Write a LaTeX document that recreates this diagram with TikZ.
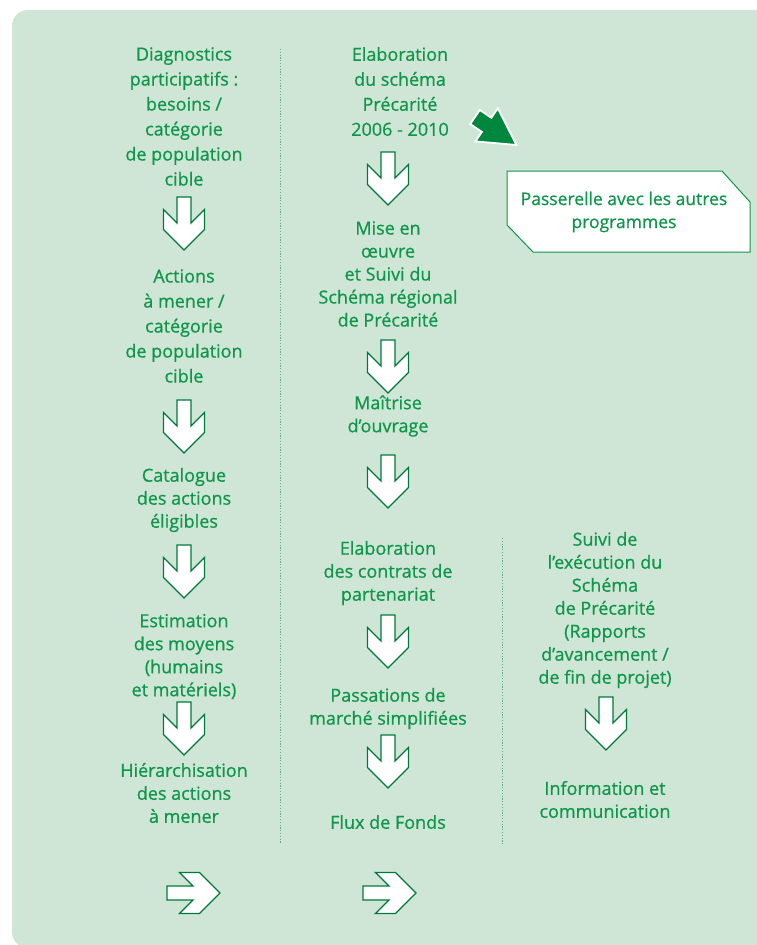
\documentclass[tikz,border=0pt]{standalone}
\usepackage{fontspec}
\setmainfont{Open Sans}[FakeBold=0.7]
\definecolor{bg}{HTML}{CFE5D5}
\definecolor{txt}{HTML}{0E964A}
\definecolor{dk}{HTML}{007A3A}
\definecolor{gr}{HTML}{00873E}
\definecolor{dotc}{HTML}{5FB184}
\tikzset{
  lbl/.style={text=txt, align=center, font=\fontsize{18}{23}\selectfont, inner sep=0pt},
  lblw/.style={lbl, font=\fontsize{18}{25}\selectfont},
  darr/.pic={\draw[dk, fill=white, line width=1.3, line join=miter]
     (-7,0) -- (7,0) -- (7,26) -- (20.5,12.5) -- (20.5,32.5) -- (0,53)
     -- (-20.5,32.5) -- (-20.5,12.5) -- (-7,26) -- cycle;},
  sep/.style={dotc, line width=1, dash pattern=on 1.2pt off 1.6pt}
}
\begin{document}
\begin{tikzpicture}[x=1pt,y=-1pt]
\useasboundingbox (0,0) rectangle (756,945);
\fill[bg, rounded corners=16] (12,10) rectangle (800,948);
% separators
\coordinate (s1a) at (280,49); \coordinate (s1b) at (280,844);
\coordinate (s2a) at (502,538); \coordinate (s2b) at (502,844);
\draw[sep] (s1a) -- (s1b);
\draw[sep] (s2a) -- (s2b);
% column 1
\node[lblw] (a1) at (184,116.5) {Diagnostics\\participatifs :\\besoins /\\catégorie\\de population\\cible};
\node[lblw] (a2) at (184,326) {Actions\\à mener /\\catégorie\\de population\\cible};
\node[lbl] (a3) at (184,500) {Catalogue\\des actions\\éligibles};
\node[lbl] (a4) at (184,656.5) {Estimation\\des moyens\\(humains\\et matériels)};
\node[lbl] (a5) at (184,793) {Hiérarchisation\\des actions\\à mener};
\pic at (184,197) {darr};
\pic at (184,400) {darr};
\pic at (184,545) {darr};
\pic at (184,702) {darr};
\pic[rotate=90] at (167,893) {darr};
% column 2
\node[lblw] (b1) at (400,91.5) {Elaboration\\du schéma\\Précarité\\2006 - 2010};
\node[lbl] (b2) at (388,274) {Mise en\\œuvre\\et Suivi du\\Schéma régional\\de Précarité};
\node[lbl] (b3) at (388,416) {Maîtrise\\d’ouvrage};
\node[lbl] (b4) at (388,573) {Elaboration\\des contrats de\\partenariat};
\node[lbl] (b5) at (388,708.5) {Passations de\\marché simplifiées};
\node[lbl] (b6) at (388,822) {Flux de Fonds};
\pic at (388,152) {darr};
\pic at (388,340) {darr};
\pic at (388,455) {darr};
\pic at (388,615) {darr};
\pic at (388,735) {darr};
\pic[rotate=90] at (363,893) {darr};
% column 3
\node[lbl] (c1) at (605,610) {Suivi de\\l’exécution du\\Schéma\\de Précarité\\(Rapports\\d’avancement /\\de fin de projet)};
\node[lbl] (c2) at (605,799.5) {Information et\\communication};
\pic at (606,697) {darr};
% green arrow
\begin{scope}[shift={(475,117)}, rotate=-34]
\draw[white, fill=gr, line width=1.8, line join=miter]
  (0,8.5) -- (14,8.5) -- (14,20) -- (50,0) -- (14,-20) -- (14,-8.5) -- (0,-8.5) -- cycle;
\end{scope}
% passerelle box
\draw[txt, fill=white, line width=1] (507,171) -- (722,171) -- (750,202) -- (750,252) -- (533,252) -- (507,225) -- cycle;
\node[lbl, font=\fontsize{17.5}{23}\selectfont] (p) at (624,212) {Passerelle avec les autres\\programmes};
\end{tikzpicture}
\end{document}
